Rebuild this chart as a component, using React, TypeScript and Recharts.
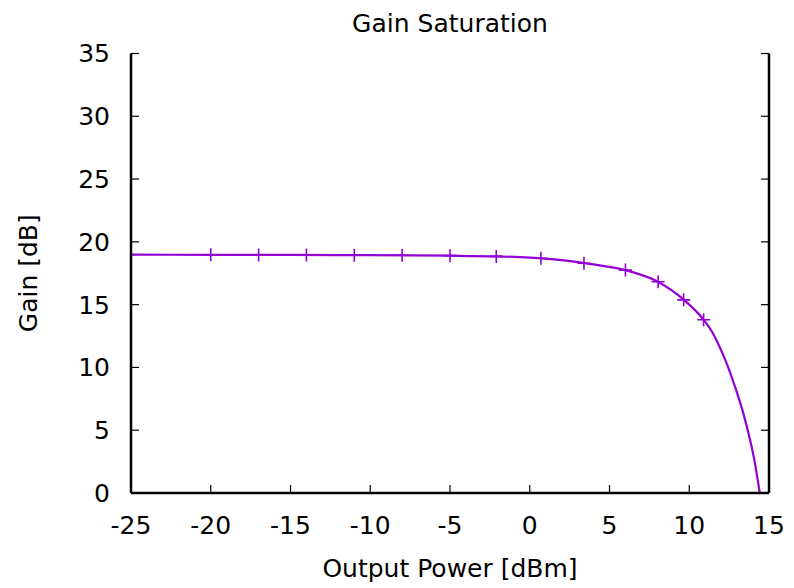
import React from "react";
import {
  ComposedChart,
  Line,
  Scatter,
  XAxis,
  YAxis,
  Label,
} from "recharts";

// Values
const curveX = [-25, -20, -15, -10, -5, -2, 0, 2, 4, 6, 8, 9.7, 10.9, 11.4, 11.9, 12.4, 12.9, 13.4, 13.8, 14.1, 14.42];
const curveY = [18.98, 18.97, 18.96, 18.94, 18.9, 18.84, 18.75, 18.55, 18.2, 17.75, 16.85, 15.35, 13.8, 12.9, 11.65, 10.15, 8.35, 6.3, 4.3, 2.5, 0];

const markerX = [-20, -17, -14, -11, -8, -5, -2.1, 0.7, 3.4, 6.0, 8.05, 9.65, 10.9];
const markerY = [18.97, 18.96, 18.95, 18.94, 18.93, 18.9, 18.84, 18.7, 18.3, 17.75, 16.82, 15.38, 13.8];

const xTicks = [-25, -20, -15, -10, -5, 0, 5, 10, 15];
const yTicks = [0, 5, 10, 15, 20, 25, 30, 35];

const curve = curveX.map((x, i) => ({ x, y: curveY[i] }));
const markers = markerX.map((x, i) => ({ x, y: markerY[i] }));

const FONT = "DejaVu Sans";
const PURPLE = "#9400d3";
const tickStyle = { fontSize: 25, fill: "#000", fontFamily: FONT };
const frame = { stroke: "#000", strokeWidth: 2.5 };
const tickLn = { stroke: "#000", strokeWidth: 1.2 };

// gnuplot-style "+" point
function Plus(props: any) {
  const { cx, cy } = props;
  const s = 6.5;
  return (
    <path
      d={`M${cx - s},${cy}H${cx + s}M${cx},${cy - s}V${cy + s}`}
      stroke={PURPLE}
      strokeWidth={1.6}
      fill="none"
    />
  );
}

export default function App() {
  return (
    <div style={{ position: "absolute", left: 0, top: 0, background: "#fff" }}>
      <ComposedChart
        width={794}
        height={588}
        margin={{ top: 53.5, right: 0, bottom: 0, left: 0 }}
        style={{ fontFamily: FONT }}
      >
        <XAxis
          xAxisId="b"
          type="number"
          dataKey="x"
          domain={[-25, 15]}
          ticks={xTicks}
          allowDataOverflow
          height={95}
          tick={tickStyle}
          tickSize={-8}
          tickMargin={31}
          axisLine={frame}
          tickLine={tickLn}
        >
          <Label
            content={(p: any) => (
              <g>
                <text
                  x={p.viewBox.x + p.viewBox.width / 2}
                  y={p.viewBox.y + 84}
                  textAnchor="middle"
                  fontSize={25}
                  fontFamily={FONT}
                  fill="#000"
                >
                  Output Power [dBm]
                </text>
                <text
                  x={p.viewBox.x + p.viewBox.width / 2}
                  y={32}
                  textAnchor="middle"
                  fontSize={25}
                  fontFamily={FONT}
                  fill="#000"
                >
                  Gain Saturation
                </text>
              </g>
            )}
          />
        </XAxis>
        <XAxis
          xAxisId="t"
          orientation="top"
          type="number"
          dataKey="x"
          domain={[-25, 15]}
          ticks={xTicks}
          allowDataOverflow
          height={0}
          tick={() => <g />}
          tickSize={-8}
          axisLine={frame}
          tickLine={tickLn}
        />
        <YAxis
          yAxisId="l"
          type="number"
          domain={[0, 35]}
          ticks={yTicks}
          allowDataOverflow
          width={131}
          tick={tickStyle}
          tickSize={-8}
          tickMargin={29}
          axisLine={frame}
          tickLine={tickLn}
        >
          <Label
            content={(p: any) => {
              const cx = 28;
              const cy = p.viewBox.y + p.viewBox.height / 2;
              return (
                <text
                  x={cx}
                  y={cy}
                  transform={`rotate(-90 ${cx} ${cy})`}
                  textAnchor="middle"
                  dominantBaseline="central"
                  fontSize={25}
                  fontFamily={FONT}
                  fill="#000"
                >
                  Gain [dB]
                </text>
              );
            }}
          />
        </YAxis>
        <YAxis
          yAxisId="r"
          orientation="right"
          type="number"
          domain={[0, 35]}
          ticks={yTicks}
          allowDataOverflow
          width={25}
          tick={() => <g />}
          tickSize={-8}
          axisLine={frame}
          tickLine={tickLn}
        />
        <Line
          xAxisId="b"
          yAxisId="l"
          data={curve}
          dataKey="y"
          type="monotone"
          stroke={PURPLE}
          strokeWidth={2.2}
          dot={false}
          activeDot={false}
          isAnimationActive={false}
        />
        <Scatter
          xAxisId="b"
          yAxisId="l"
          data={markers}
          dataKey="y"
          shape={<Plus />}
          isAnimationActive={false}
        />
      </ComposedChart>
    </div>
  );
}
